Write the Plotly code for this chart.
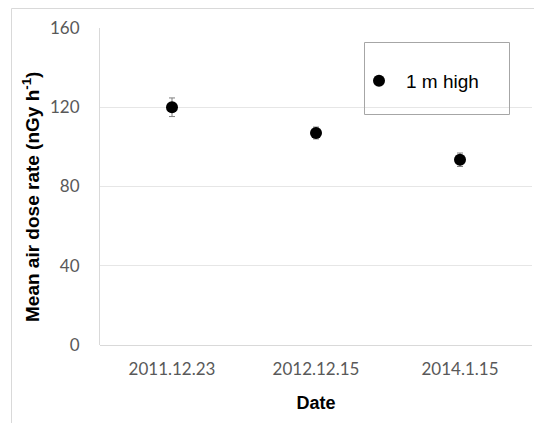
import plotly.graph_objects as go

dates = ["2011.12.23", "2012.12.15", "2014.1.15"]
dose_rate = [120, 107, 93.5]
dose_err = [4.7, 3.0, 3.4]
series_name = "1 m high"
y_ticks = [0, 40, 80, 120, 160]

# page body has an 8px margin: work in reference pixels, shifted by OFF
OFF = 8
W, H = 542 - OFF, 423 - OFF
L, R, T, B = 100 - OFF, 10, 28 - OFF, 78
pw, ph = W - L - R, H - T - B

def px_x(x):
    return (x - OFF - L) / pw

def px_y(y):
    return (H - B - (y - OFF)) / ph

fig = go.Figure()
fig.add_trace(go.Scatter(
    x=dates, y=dose_rate, mode="markers", name=series_name,
    marker=dict(color="black", size=12),
    error_y=dict(type="data", array=dose_err, visible=True,
                 color="#7f7f7f", thickness=1, width=3),
))

fig.update_layout(
    width=W, height=H,
    margin=dict(l=L, r=R, t=T, b=B),
    paper_bgcolor="white", plot_bgcolor="white",
    showlegend=True,
    legend=dict(x=px_x(352), y=px_y(81), xanchor="left", yanchor="middle",
                bgcolor="rgba(0,0,0,0)", borderwidth=0, itemwidth=44,
                font=dict(family="Liberation Sans, Arial", size=19, color="black")),
    xaxis=dict(type="category", range=[-0.5, 2.5], showgrid=False,
               showline=False, zeroline=False,
               tickfont=dict(family="Lato, Carlito, sans-serif", size=17, color="#595959"),
               ticks="", ticklabelstandoff=12,
               title=dict(text="<b>Date</b>", standoff=18,
                          font=dict(family="Liberation Sans, Arial", size=18, color="black"))),
    yaxis=dict(range=[0, 160], tickvals=y_ticks, showgrid=True, gridcolor="#e6e6e6",
               gridwidth=1, showline=True, linecolor="#d9d9d9", linewidth=1,
               zeroline=True, zerolinecolor="#d9d9d9", zerolinewidth=1,
               tickfont=dict(family="Lato, Carlito, sans-serif", size=17, color="#595959"),
               ticks="", ticklabelstandoff=16),
)

fig.add_annotation(
    text="<b>Mean air dose rate (nGy h<sup>-1</sup>)</b>",
    xref="paper", yref="paper", x=px_x(31), y=px_y(197),
    xanchor="center", yanchor="middle", textangle=-90, showarrow=False,
    font=dict(family="Liberation Sans, Arial", size=19, color="black"),
)

# legend frame
fig.add_shape(type="rect", xref="paper", yref="paper",
              x0=px_x(364.5), x1=px_x(509.5), y0=px_y(114.5), y1=px_y(42.5),
              line=dict(color="#a6a6a6", width=1), fillcolor="rgba(0,0,0,0)", layer="above")
# chart area border (top and left)
fig.add_shape(type="line", xref="paper", yref="paper",
              x0=px_x(11.5), x1=px_x(545), y0=px_y(8.5), y1=px_y(8.5),
              line=dict(color="#d9d9d9", width=1))
fig.add_shape(type="line", xref="paper", yref="paper",
              x0=px_x(11.5), x1=px_x(11.5), y0=px_y(8.5), y1=px_y(430),
              line=dict(color="#d9d9d9", width=1))

fig.write_html("out.html")
